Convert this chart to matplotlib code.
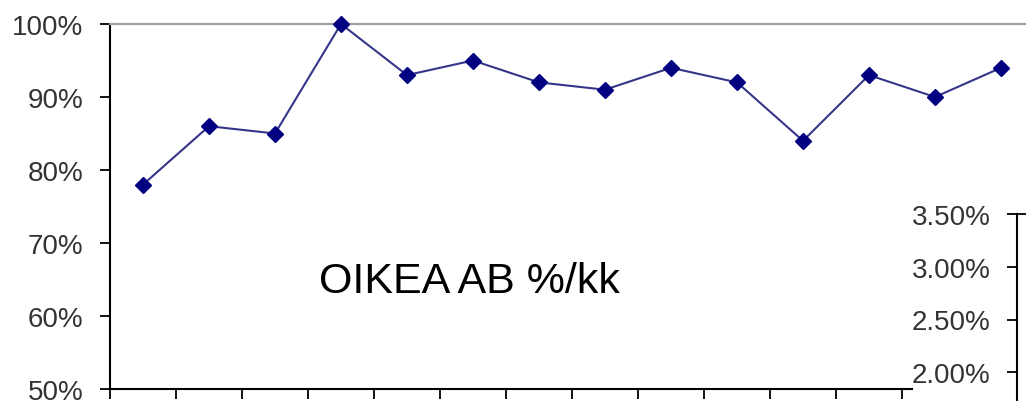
import matplotlib
matplotlib.use('Agg')
import matplotlib.pyplot as plt
from matplotlib.patches import Rectangle
from matplotlib.ticker import FuncFormatter

plt.rcParams['font.family'] = ['Liberation Sans', 'DejaVu Sans']

# kuukausittainen osuus, %
months = list(range(1, 15))
share = [78, 86, 85, 100, 93, 95, 92, 91, 94, 92, 84, 93, 90, 94]
left_ticks = [50, 60, 70, 80, 90, 100]
right_ticks = [2.0, 2.5, 3.0, 3.5]

W, H = 1026, 402
fig = plt.figure(figsize=(W / 100, H / 100), dpi=100)

def px(x0, y0, x1, y1):
    # pikselilaatikko -> figure-koordinaatit
    return [x0 / W, 1 - y1 / H, (x1 - x0) / W, (y1 - y0) / H]

ax = fig.add_axes(px(110, 25, 110 + 66 * 14, 390))
xs = [m - 0.5 for m in months]
ax.plot(xs, share, color='#35358a', lw=1.5, marker='D', ms=8,
        mfc='#000080', mec='#000080', clip_on=False, zorder=3)
ax.set_xlim(0, 14)
ax.set_ylim(50, 100)
ax.set_xticks(range(0, 15))
ax.set_xticklabels([])
ax.set_yticks(left_ticks)
ax.yaxis.set_major_formatter(FuncFormatter(lambda v, p: '%d%%' % v))
ax.tick_params(axis='both', direction='out', length=7, width=1.3,
               color='black', labelsize=20, labelcolor='#333333', pad=12)
ax.spines['right'].set_visible(False)
ax.spines['top'].set_color('#a0a0a0')
ax.spines['top'].set_linewidth(1.6)
ax.spines['left'].set_linewidth(1.5)
ax.spines['bottom'].set_linewidth(1.5)

fig.text(319 / W, 1 - 293 / H, 'OIKEA AB %/kk', fontsize=31,
         ha='left', va='baseline', color='black')

# toinen kaavio oikeassa alakulmassa
fig.add_artist(Rectangle((913 / W, 0), 1 - 913 / W, (H - 195) / H,
                         transform=fig.transFigure, facecolor='white',
                         edgecolor='none', zorder=2))
ax2 = fig.add_axes(px(1017, 215, 1200, 426), zorder=3)
ax2.set_ylim(1.5, 3.5)
ax2.set_yticks(right_ticks)
ax2.yaxis.set_major_formatter(FuncFormatter(lambda v, p: '%.2f%%' % v))
ax2.set_xticks([])
ax2.tick_params(axis='y', direction='out', length=7, width=1.3,
                labelsize=20, labelcolor='#333333', pad=12)
ax2.spines['left'].set_linewidth(1.5)
ax2.spines['top'].set_linewidth(1.3)

fig.savefig('out.png', dpi=100)
